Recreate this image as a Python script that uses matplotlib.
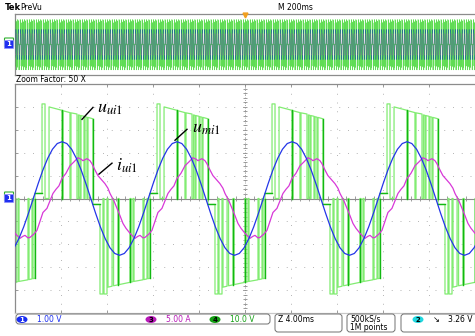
import numpy as np
import matplotlib
matplotlib.use('Agg')
import matplotlib.pyplot as plt
from matplotlib.patches import FancyBboxPatch, Ellipse

plt.rcParams['mathtext.fontset'] = 'stix'
plt.rcParams['font.family'] = ['DejaVu Sans']

# scope settings (status bar)
ms_per_div = 4.0
ch1_scale = 1.00    # V/div, u_mi1
ch3_scale = 5.00    # A/div, i_ui1
ch4_scale = 10.0    # V/div, u_ui1
period_ms = 10.0

# u_mi1 (blue): one period from a rising zero crossing, 24 equal steps, V
umi_start_ms = 1.59
umi_v = [0.0, 0.64, 1.24, 1.75, 2.15, 2.40, 2.48, 2.40, 2.15, 1.75, 1.24, 0.64,
         0.0, -0.64, -1.24, -1.75, -2.15, -2.40, -2.48, -2.40, -2.15, -1.75, -1.24, -0.64]

# i_ui1 (magenta): one period, ms from start / A
iui_start_ms = 1.30
iui_t = [0.00, 0.35, 0.61, 0.87, 1.13, 1.48, 1.74, 2.00, 2.26, 2.52, 2.78, 3.13,
         3.48, 3.83, 4.17, 4.43, 4.61, 4.96, 5.22, 5.39, 5.65, 5.91, 6.17, 6.52,
         6.78, 6.96, 7.30, 7.57, 7.83, 8.09, 8.35, 8.70, 8.96, 9.13, 9.39, 9.57, 9.83]
iui_a = [-8.5, -7.75, -6.95, -5.0, -3.05, -2.15, -0.5, 1.1, 2.0, 2.75, 4.35, 5.5,
         7.15, 8.0, 8.9, 8.6, 8.25, 8.7, 8.25, 7.6, 6.25, 5.0, 4.25, 3.25,
         2.25, 1.1, -0.5, -2.15, -3.75, -5.45, -6.5, -7.6, -8.25, -8.7, -8.25, -8.05, -8.6]

# u_ui1 (green): pulses in one period, ms from start of the positive half / V
uui_start_ms = 2.35
pos_on_ms = [0.00, 0.61, 1.83, 2.52, 3.17, 3.39, 3.74, 4.00]
pos_off_ms = [0.26, 1.74, 2.43, 3.04, 3.30, 3.65, 3.91, 4.43]
pos_top_on = [41.3, 40.0, 38.3, 37.4, 36.5, 36.2, 35.7, 35.4]
pos_top_off = [41.3, 38.5, 37.5, 36.9, 36.3, 35.9, 35.5, 34.8]
neg_on_ms = [5.04, 5.39, 5.74, 6.22, 6.70, 7.74, 8.00, 8.87, 9.22]
neg_off_ms = [5.30, 5.65, 6.09, 6.61, 7.65, 7.91, 8.78, 9.13, 9.39]
neg_bot_on = [-41.7, -41.7, -38.7, -38.1, -37.6, -36.5, -36.2, -35.4, -35.0]
neg_bot_off = [-41.7, -41.7, -38.3, -37.7, -36.6, -36.3, -35.5, -35.1, -34.8]
zero_after_pos = -2.6
zero_after_neg = 2.2
dark_pos = [1, 7]
dark_neg = [3, 4, 8]

BLUE = '#2436e8'
MAG = '#d838d8'
GREEN_L = '#82ec72'
GREEN_D = '#12b812'
GRAY = '#8c8c8c'


def tile(t, v, start, t0, t1):
    t = np.asarray(t, float)
    v = np.asarray(v, float)
    k0 = int(np.floor((t0 - start) / period_ms)) - 1
    k1 = int(np.ceil((t1 - start) / period_ms)) + 1
    ts = [t + start + k * period_ms for k in range(k0, k1)]
    return np.concatenate(ts), np.tile(v, k1 - k0)


def green_period():
    pts = []
    n = len(pos_on_ms)
    for i in range(n):
        lo = zero_after_neg if i == 0 else 0.0
        after = zero_after_pos if i == n - 1 else 0.0
        pts += [(pos_on_ms[i], lo), (pos_on_ms[i], pos_top_on[i]),
                (pos_off_ms[i], pos_top_off[i]), (pos_off_ms[i], after)]
    n = len(neg_on_ms)
    for i in range(n):
        lo = zero_after_pos if i == 0 else 0.0
        after = zero_after_neg if i == n - 1 else 0.0
        pts += [(neg_on_ms[i], lo), (neg_on_ms[i], neg_bot_on[i]),
                (neg_off_ms[i], neg_bot_off[i]), (neg_off_ms[i], after)]
    t, v = zip(*pts)
    return list(t), list(v)


umi_t = np.arange(len(umi_v)) * period_ms / len(umi_v)
g_t, g_v = green_period()

fig = plt.figure(figsize=(4.75, 3.36), dpi=100)
fig.patch.set_facecolor('white')

main = fig.add_axes([15 / 475, 1 - 313 / 336, 460 / 475, 229 / 336])
prev = fig.add_axes([15 / 475, 1 - 75 / 336, 460 / 475, 61 / 336])

# ---- graticule
for ax in (main, prev):
    ax.set_xlim(0, 10 * ms_per_div)
    ax.set_ylim(-5, 5)
    for s in ax.spines.values():
        s.set_color(GRAY)
        s.set_linewidth(0.9)
    ax.spines['right'].set_visible(False)
    ax.set_xticks([])
    ax.set_yticks([])

main.spines['bottom'].set_color('#c8c8c8')

for k in range(1, 10):
    main.axvline(k * ms_per_div, color='#b4b4b4', lw=0.7, ls=(0, (1, 8)), zorder=0)
for k in range(-4, 5):
    main.axhline(k, color='#b4b4b4', lw=0.7, ls=(0, (1, 8)), zorder=0)
main.axhline(0, color=GRAY, lw=0.8, zorder=0.5)
main.axvline(20, color=GRAY, lw=0.6, ls=(0, (1, 2)), zorder=0.5)
minor_x = np.arange(0, 40.01, 0.8)
minor_y = np.arange(-5, 5.01, 0.2)
main.vlines(minor_x, -0.1, 0.1, color=GRAY, lw=0.6, zorder=0.5)
main.hlines(minor_y, 20 - 0.2, 20 + 0.2, color=GRAY, lw=0.6, zorder=0.5)
main.vlines(np.arange(0, 40.01, 4), 4.85, 5, color=GRAY, lw=0.6)
main.vlines(np.arange(0, 40.01, 4), -5, -4.85, color=GRAY, lw=0.6)
main.hlines(np.arange(-5, 5.01, 1), 0, 0.3, color=GRAY, lw=0.6)

# ---- main traces
t0, t1 = -1, 41
gt, gv = tile(g_t, g_v, uui_start_ms, t0, t1)
main.plot(gt, gv / ch4_scale, color=GREEN_L, lw=0.9, zorder=2)
for k in range(-1, 5):
    base = uui_start_ms + k * period_ms
    for i in dark_pos:
        main.plot([base + pos_off_ms[i]] * 2, [0, pos_top_off[i] / ch4_scale],
                  color=GREEN_D, lw=1.0, zorder=2.2)
    for i in dark_neg:
        main.plot([base + neg_off_ms[i]] * 2, [0, neg_bot_off[i] / ch4_scale],
                  color=GREEN_D, lw=1.0, zorder=2.2)
    main.plot([base + pos_off_ms[-1], base + neg_on_ms[0]],
              [zero_after_pos / ch4_scale] * 2, color=GREEN_D, lw=1.0, zorder=2.2)
    main.plot([base + neg_off_ms[-1], base + period_ms],
              [zero_after_neg / ch4_scale] * 2, color=GREEN_D, lw=1.0, zorder=2.2)

mt, ma = tile(iui_t, iui_a, iui_start_ms, t0, t1)
main.plot(mt, ma / ch3_scale, color=MAG, lw=0.9, zorder=3)
bt, bv = tile(umi_t, umi_v, umi_start_ms, t0, t1)
main.plot(bt, bv / ch1_scale, color=BLUE, lw=0.9, zorder=4)

# ---- preview (200 ms/div, same signals)
p0, p1 = -1000 + 20, 1000 + 20
pt, pv = tile(g_t, g_v, uui_start_ms, p0, p1)
pbt, pbv = tile(umi_t, umi_v, umi_start_ms, p0, p1)
pmt, pma = tile(iui_t, iui_a, iui_start_ms, p0, p1)
sc = 40.0 / 2000.0
prev.plot((pt - p0) * sc, pv / ch4_scale, color=GREEN_L, lw=0.3, zorder=2)
prev.plot((pbt - p0) * sc, pbv / ch1_scale, color='#1428d8', lw=0.3, alpha=0.9, zorder=3)
prev.plot((pmt - p0) * sc, pma / ch3_scale, color=MAG, lw=0.25, alpha=0.5, zorder=4)
prev.plot((pt - p0) * sc, pv / ch4_scale, color=GREEN_D, lw=0.2, alpha=0.3, zorder=5)

# ---- annotations
def px2data(x, y):
    return (x - 15) * ms_per_div / 46.0, (198.5 - y) / 23.0

for lab, (xa, ya), (xb, yb), (xt, yt) in [
        (r'$u_{ui1}$', (93, 107), (82, 119), (97, 108)),
        (r'$u_{mi1}$', (187, 129), (175, 140), (192, 128)),
        (r'$i_{ui1}$', (112, 163), (99, 174), (116, 166))]:
    a = px2data(xa, ya)
    b = px2data(xb, yb)
    main.plot([a[0], b[0]], [a[1], b[1]], color='black', lw=1.0, zorder=6)
    tx, ty = px2data(xt, yt)
    main.text(tx, ty, lab, fontsize=13, va='center', ha='left', zorder=6)

# ---- scope UI overlay in pixel coordinates
ui = fig.add_axes([0, 0, 1, 1], zorder=5)
ui.set_xlim(0, 475)
ui.set_ylim(336, 0)
ui.axis('off')

ui.text(5, 8, 'Tek', fontsize=6, fontweight='bold', va='center')
ui.text(20, 8, 'PreVu', fontsize=5.5, va='center')
ui.text(278, 8, 'M 200ms', fontsize=5.5, va='center')
ui.text(16, 79, 'Zoom Factor: 50 X', fontsize=5.5, va='center')
ui.plot([245], [15], marker='v', color='#f0a020', ms=3.5)


def chan_marker(x, y):
    ui.add_patch(FancyBboxPatch((x - 5, y - 6), 8, 8, boxstyle='round,pad=0.5',
                                fc='white', ec='#30b030', lw=0.8))
    ui.add_patch(FancyBboxPatch((x - 5, y - 3.5), 8, 7, boxstyle='round,pad=0.5',
                                fc='#2030f0', ec='#9090ff', lw=0.6))
    ui.text(x - 1, y, '1', color='white', fontsize=5, ha='center', va='center',
            fontweight='bold')


chan_marker(10, 198.5)
chan_marker(10, 44.5)

boxes = [(16, 314, 254, 10), (275, 314, 67, 18), (347, 314, 48, 18), (401, 314, 80, 18)]
for x, y, w, h in boxes:
    ui.add_patch(FancyBboxPatch((x, y), w, h, boxstyle='round,pad=0,rounding_size=3',
                                fc='white', ec='#707070', lw=0.7))

status = [(22, '1', '1.00 V', '#1a2ef0', 'white'),
          (151, '3', '5.00 A', '#b818b8', 'black'),
          (215, '4', '10.0 V', '#14a014', 'black')]
for x, num, txt, col, ncol in status:
    ui.add_patch(Ellipse((x, 319.5), 11, 7, fc=col, ec='none'))
    ui.text(x, 319.5, num, color=ncol, fontsize=5, ha='center', va='center', fontweight='bold')
    ui.text(x + 15, 319.5, txt, color=col, fontsize=5.5, va='center')

ui.text(278, 319.5, 'Z 4.00ms', fontsize=5.5, va='center')
ui.text(350, 319.5, '500kS/s', fontsize=5.5, va='center')
ui.text(350, 328, '1M points', fontsize=5.5, va='center')
ui.add_patch(Ellipse((418, 319.5), 11, 7, fc='#20d8e0', ec='none'))
ui.text(418, 319.5, '2', fontsize=5, ha='center', va='center', fontweight='bold')
ui.text(433, 319.5, '\u2198', fontsize=6, va='center')
ui.text(448, 319.5, '3.26 V', fontsize=5.5, va='center')

fig.savefig('out.png', dpi=100, facecolor='white')
